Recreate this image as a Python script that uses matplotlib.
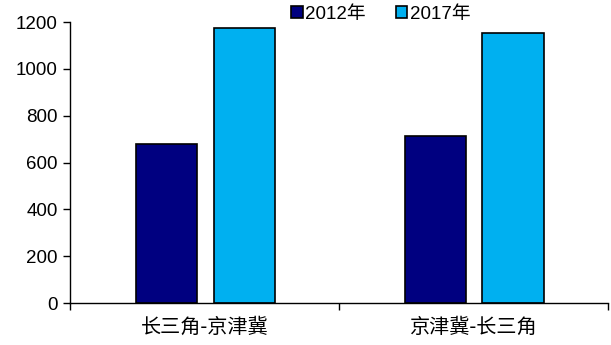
import matplotlib.pyplot as plt
import numpy as np

plt.rcParams['font.family'] = ['Liberation Sans', 'Noto Sans CJK SC']

categories = ['长三角-京津冀', '京津冀-长三角']
series_names = ['2012年', '2017年']
v2012 = [680, 712]
v2017 = [1175, 1153]
colors = ['#000080', '#00B0F0']

fig = plt.figure(figsize=(6.11, 3.45), dpi=100)
ax = fig.add_axes([0.1146, 0.1217, 0.8804, 0.8143])

x = np.arange(len(categories))
w = 0.227
ax.bar(x - 0.141, v2012, w, color=colors[0], edgecolor='black', linewidth=1.2, label=series_names[0])
ax.bar(x + 0.147, v2017, w, color=colors[1], edgecolor='black', linewidth=1.2, label=series_names[1])

ax.set_xlim(-0.5, 1.5)
ax.set_ylim(0, 1200)
ax.set_yticks(range(0, 1201, 200))
ax.tick_params(axis='y', direction='out', length=5, width=1, labelsize=13.5, pad=4)

# category boundaries get the tick marks, labels sit on the minor ticks
ax.set_xticks([-0.5, 0.5, 1.5])
ax.set_xticklabels([])
ax.set_xticks(x, minor=True)
ax.set_xticklabels(categories, minor=True, fontfamily=['Noto Sans CJK SC'], fontsize=14.5)
ax.tick_params(axis='x', which='major', direction='out', length=5, width=1)
ax.tick_params(axis='x', which='minor', length=0, pad=10)

for s in ['top', 'right']:
    ax.spines[s].set_visible(False)
for s in ['left', 'bottom']:
    ax.spines[s].set_linewidth(1)

ax.legend(loc='upper center', bbox_to_anchor=(0.578, 1.085), ncol=2, frameon=False,
          fontsize=13.5, handlelength=0.6, handleheight=0.6, handletextpad=0.15,
          columnspacing=1.6, borderaxespad=0)

fig.savefig('out.png', dpi=100)
